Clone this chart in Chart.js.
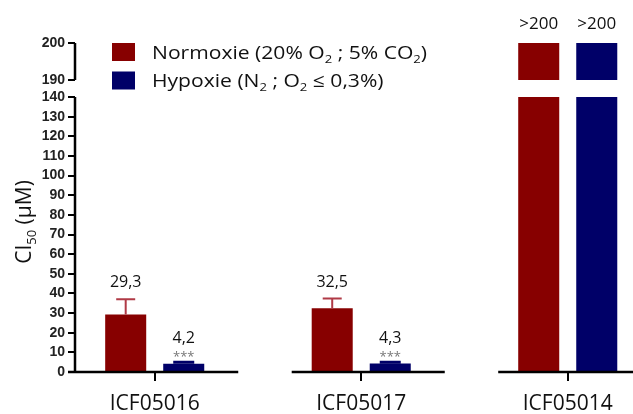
<!DOCTYPE html>
<html>
<head>
<meta charset="utf-8">
<script src="https://cdn.jsdelivr.net/npm/chart.js@4.4.0/dist/chart.umd.min.js"></script>
<style>
  html, body { margin: 0; padding: 0; background: #fff; }
</style>
</head>
<body>
<canvas id="chart" width="633" height="414"></canvas>
<script>
// data (ICF05014 is ">200", drawn capped at 200)
const categories = ['ICF05016', 'ICF05017', 'ICF05014'];
const normoxie = [29.3, 32.5, 200];
const normoxieErr = [7.8, 4.9, null];
const hypoxie = [4.2, 4.3, 200];
const hypoxieErr = [0.8, 0.7, null];
const hypoxieSig = ['***', '***', ''];
const lowTicks = [0, 10, 20, 30, 40, 50, 60, 70, 80, 90, 100, 110, 120, 130, 140];
const highTicks = [190, 200];
const seriesNames = ['Normoxie (20% O₂ ; 5% CO₂)', 'Hypoxie (N₂ ; O₂ ≤ 0,3%)'];
const axisTitle = 'CI₅₀ (µM)';

const RED = '#870000';
const BLUE = '#000068';
const LOW_MAX = 140, HIGH_MIN = 190, HIGH_MAX = 200;
const TEXT_FONT = "'Open Sans', 'Liberation Sans', sans-serif";

const lowPart = vals => vals.map((v, i) => ({ x: i, y: Math.min(v, LOW_MAX) }));
const highPart = vals => vals.map((v, i) => ({ x: i, y: v >= HIGH_MIN ? [HIGH_MIN, Math.min(v, HIGH_MAX)] : null }));
const fmt = v => v >= HIGH_MAX ? '>' + HIGH_MAX : v.toFixed(1).replace('.', ',');

// text with unicode subscript digits drawn as real small lowered digits
function drawRich(ctx, text, x, y, size, align, stretch) {
  const sx = stretch || 1;
  const runs = [];
  for (const ch of text) {
    const code = ch.charCodeAt(0);
    const sub = code >= 0x2080 && code <= 0x2089;
    const c = sub ? String.fromCharCode(code - 0x2080 + 48) : ch;
    if (runs.length && runs[runs.length - 1].sub === sub) runs[runs.length - 1].t += c;
    else runs.push({ sub, t: c });
  }
  let w = 0;
  for (const r of runs) {
    ctx.font = (r.sub ? size * 0.62 : size) + 'px ' + TEXT_FONT;
    r.w = ctx.measureText(r.t).width;
    w += r.w;
  }
  ctx.save();
  ctx.translate(x, y);
  ctx.scale(sx, 1);
  let cx = align === 'center' ? -w / 2 : 0;
  ctx.textAlign = 'left';
  ctx.textBaseline = 'alphabetic';
  for (const r of runs) {
    ctx.font = (r.sub ? size * 0.62 : size) + 'px ' + TEXT_FONT;
    ctx.fillText(r.t, cx, r.sub ? size * 0.22 : 0);
    cx += r.w;
  }
  ctx.restore();
}

const extras = {
  id: 'extras',
  afterDatasetsDraw(chart) {
    const ctx = chart.ctx;
    const y = chart.scales.y;
    const groups = [
      { meta: chart.getDatasetMeta(0), top: chart.getDatasetMeta(2), vals: normoxie, err: normoxieErr, color: '#b03a46', lw: 2, cap: 19 },
      { meta: chart.getDatasetMeta(1), top: chart.getDatasetMeta(3), vals: hypoxie, err: hypoxieErr, color: BLUE, lw: 3, cap: 21, sig: hypoxieSig }
    ];
    ctx.save();
    for (const g of groups) {
      g.meta.data.forEach((el, i) => {
        const v = g.vals[i];
        ctx.fillStyle = '#111';
        if (v >= HIGH_MIN) {
          const t = g.top.data[i];
          drawRich(ctx, fmt(v), t.x, t.y - 14, 17, 'center');
          return;
        }
        const capY = y.getPixelForValue(v + (g.err[i] || 0));
        ctx.strokeStyle = g.color;
        ctx.lineWidth = g.lw;
        ctx.beginPath();
        ctx.moveTo(el.x, el.y);
        ctx.lineTo(el.x, capY);
        ctx.moveTo(el.x - g.cap / 2, capY);
        ctx.lineTo(el.x + g.cap / 2, capY);
        ctx.stroke();
        if (g.sig) {
          drawRich(ctx, fmt(v), el.x, capY - 19, 16, 'center');
          ctx.fillStyle = '#777';
          ctx.font = '13px ' + TEXT_FONT;
          ctx.textAlign = 'center';
          ctx.textBaseline = 'middle';
          ctx.fillText(g.sig[i], el.x, capY - 5);
        } else {
          drawRich(ctx, fmt(v), el.x, capY - 12, 16, 'center');
        }
      });
    }
    ctx.restore();
  },
  afterDraw(chart) {
    const ctx = chart.ctx;
    const area = chart.chartArea;
    const y = chart.scales.y, yTop = chart.scales.yTop;
    ctx.save();
    ctx.strokeStyle = '#000';
    ctx.lineWidth = 2.5;
    ctx.beginPath();
    // broken y axis
    ctx.moveTo(area.left, y.getPixelForValue(0) + 1);
    ctx.lineTo(area.left, y.getPixelForValue(LOW_MAX));
    ctx.moveTo(area.left, yTop.getPixelForValue(HIGH_MIN));
    ctx.lineTo(area.left, yTop.getPixelForValue(HIGH_MAX));
    // broken x axis, one piece per group
    const red = chart.getDatasetMeta(0).data, blue = chart.getDatasetMeta(1).data;
    const base = area.bottom;
    let start = area.left - 7;
    for (let i = 0; i < categories.length; i++) {
      const end = i < categories.length - 1 ? blue[i].x + blue[i].width / 2 + 34 : area.right;
      ctx.moveTo(start, base);
      ctx.lineTo(end, base);
      if (i < categories.length - 1) start = red[i + 1].x - red[i + 1].width / 2 - 20;
    }
    ctx.stroke();

    // legend
    const colors = [RED, BLUE];
    seriesNames.forEach((name, k) => {
      const cy = area.top + 9 + k * 28.5;
      ctx.fillStyle = colors[k];
      ctx.fillRect(area.left + 37, cy - 9, 23, 18);
      ctx.fillStyle = '#111';
      drawRich(ctx, name, area.left + 77, cy + 6.5, 18.5, 'left', 1.14);
    });

    // y title
    ctx.translate(24, 222);
    ctx.rotate(-Math.PI / 2);
    ctx.fillStyle = '#111';
    drawRich(ctx, axisTitle, 0, 7, 21, 'center');
    ctx.restore();
  }
};

const yCommon = {
  type: 'linear',
  position: 'left',
  stack: 'ci50',
  stacked: false,
  border: { display: false },
  grid: { drawOnChartArea: false, color: '#000', lineWidth: 2, tickLength: 7 },
  ticks: { font: { family: 'Liberation Sans', size: 14, weight: 'bold' }, color: '#222', padding: 3, autoSkip: false },
  afterFit: s => { s.width = 75; }
};

new Chart(document.getElementById('chart'), {
  type: 'bar',
  data: {
    datasets: [
      { label: seriesNames[0], data: lowPart(normoxie), backgroundColor: RED, stack: 'n', yAxisID: 'y' },
      { label: seriesNames[1], data: lowPart(hypoxie), backgroundColor: BLUE, stack: 'h', yAxisID: 'y' },
      { label: seriesNames[0], data: highPart(normoxie), backgroundColor: RED, stack: 'n', yAxisID: 'yTop' },
      { label: seriesNames[1], data: highPart(hypoxie), backgroundColor: BLUE, stack: 'h', yAxisID: 'yTop' }
    ]
  },
  options: {
    responsive: false,
    animation: false,
    categoryPercentage: 0.562,
    barPercentage: 0.707,
    layout: { padding: { top: 43, left: 0, right: 0, bottom: 0 } },
    plugins: { legend: { display: false }, tooltip: { enabled: false } },
    scales: {
      x: {
        type: 'linear',
        min: -0.386,
        max: 2.316,
        offset: false,
        stacked: true,
        border: { display: false },
        grid: { offset: false, drawOnChartArea: false, color: '#000', lineWidth: 2, tickLength: 9 },
        afterBuildTicks: s => { s.ticks = categories.map((c, i) => ({ value: i })); },
        ticks: {
          callback: (v, i) => categories[i],
          font: { family: 'Open Sans', size: 21 },
          color: '#111',
          padding: 10,
          maxRotation: 0,
          autoSkip: false
        },
        afterFit: s => { s.height = 42; }
      },
      y: Object.assign({}, yCommon, {
        min: 0, max: LOW_MAX, stackWeight: 275,
        afterBuildTicks: s => { s.ticks = lowTicks.map(v => ({ value: v })); }
      }),
      yTop: Object.assign({}, yCommon, {
        min: 185.4, max: HIGH_MAX, stackWeight: 54,
        afterBuildTicks: s => { s.ticks = highTicks.map(v => ({ value: v })); }
      })
    }
  },
  plugins: [extras]
});
</script>
</body>
</html>
